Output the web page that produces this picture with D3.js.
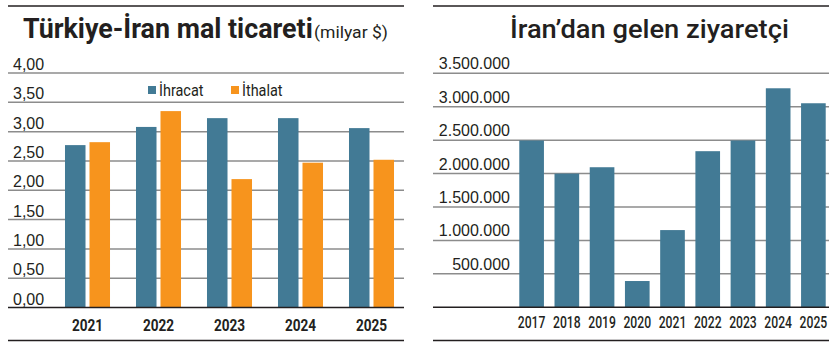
<html>
<head>
  <meta charset="utf-8">
  <script src="https://cdn.jsdelivr.net/npm/d3@7"></script>
  <style>
    body { margin: 0; background: #fff; }
    text { fill: #231f20; font-family: Roboto, "Liberation Sans", sans-serif; }
    .tick-label { font-family: "Liberation Sans", Arial, sans-serif; font-size: 16px; }
    .year { font-size: 17px; font-weight: bold; }
    .legend { font-size: 17px; }
    .grid { stroke: #8c8c8c; stroke-width: 1.5; }
    .rule { stroke: #231f20; stroke-width: 1.5; }
  </style>
</head>
<body>
<script>
// Data
const tradeYears = ["2021", "2022", "2023", "2024", "2025"];
const tradeSeries = ["İhracat", "İthalat"];
const exportsBn = [2.77, 3.08, 3.23, 3.23, 3.06];
const importsBn = [2.82, 3.35, 2.19, 2.47, 2.52];
const tradeTicks = [0, 0.5, 1, 1.5, 2, 2.5, 3, 3.5, 4];

const visitorYears = ["2017", "2018", "2019", "2020", "2021", "2022", "2023", "2024", "2025"];
const visitors = [2495000, 2000000, 2095000, 393000, 1155000, 2335000, 2495000, 3276000, 3052000];
const visitorTicks = [500000, 1000000, 1500000, 2000000, 2500000, 3000000, 3500000];

const teal = "#427a95";
const orange = "#f7941d";

const w = 840, h = 350;
const tr = d3.formatLocale({ decimal: ",", thousands: ".", grouping: [3], currency: ["", ""] });
const fmtDec = tr.format(".2f");
const fmtInt = tr.format(",d");

const svg = d3.select("body").append("svg")
  .attr("width", w)
  .attr("height", h);

// narrow text: the original uses a condensed face, squeeze horizontally
function narrow(sel, x, y, sx) {
  return sel.attr("transform", d => {
    const xx = typeof x === "function" ? x(d) : x;
    const yy = typeof y === "function" ? y(d) : y;
    return "translate(" + xx + "," + yy + ") scale(" + sx + ",1)";
  });
}
// fit a text to a given width
function fitTo(t, x, y, width) {
  const len = t.node().getComputedTextLength();
  t.attr("transform", "translate(" + x + "," + y + ") scale(" + (width / len) + ",1)");
}

// ---------- Left chart: trade ----------
const L = { x0: 8, x1: 404 };
const yL = d3.scaleLinear().domain([0, 4]).range([307.5, 73]);
const xL = d3.scaleBand().domain(tradeYears).range([52, 407])
  .paddingInner(0.366).paddingOuter(0.183);
const xSub = d3.scaleBand().domain(tradeSeries).range([0, xL.bandwidth()])
  .paddingInner(0.163);

svg.append("line").attr("class", "rule")
  .attr("x1", L.x0).attr("x2", L.x1).attr("y1", 6).attr("y2", 6);

const left = svg.append("g");
left.selectAll(".grid").data(tradeTicks.filter(d => d > 0)).join("line")
  .attr("class", "grid")
  .attr("x1", L.x0).attr("x2", L.x1)
  .attr("y1", d => yL(d)).attr("y2", d => yL(d));

left.selectAll(".tick-label").data(tradeTicks).join("text")
  .attr("class", "tick-label")
  .attr("x", 13).attr("y", d => yL(d) - 3)
  .text(d => fmtDec(d));

const tradeRows = tradeYears.map((y, i) => ({ year: y, vals: [exportsBn[i], importsBn[i]] }));
const groups = left.selectAll(".grp").data(tradeRows).join("g")
  .attr("transform", d => "translate(" + xL(d.year) + ",0)");
groups.selectAll("rect").data(d => d.vals.map((v, j) => ({ key: tradeSeries[j], v: v }))).join("rect")
  .attr("x", d => xSub(d.key))
  .attr("width", xSub.bandwidth())
  .attr("y", d => yL(d.v))
  .attr("height", d => yL(0) - yL(d.v))
  .attr("fill", d => d.key === tradeSeries[0] ? teal : orange);

left.append("line").attr("class", "rule")
  .attr("x1", L.x0).attr("x2", L.x1).attr("y1", yL(0)).attr("y2", yL(0));

narrow(left.selectAll(".year").data(tradeYears).join("text")
  .attr("class", "year")
  .attr("text-anchor", "middle")
  .text(d => d), d => xL(d) + xL.bandwidth() / 2, 331, 0.8);

svg.append("line").attr("class", "rule")
  .attr("x1", L.x0).attr("x2", L.x1).attr("y1", 340.5).attr("y2", 340.5);

// legend
const legX = [148, 231];
tradeSeries.forEach((s, i) => {
  svg.append("rect").attr("x", legX[i]).attr("y", 86).attr("width", 8).attr("height", 8)
    .attr("fill", i === 0 ? teal : orange);
  narrow(svg.append("text").attr("class", "legend").text(s), legX[i] + 11, 96, 0.85);
});

// title
const t1 = svg.append("text")
  .style("font-weight", "bold").style("font-size", "27px")
  .text("Türkiye-İran mal ticareti");
fitTo(t1, 23, 38, 290);
const t1b = svg.append("text")
  .style("font-size", "17px")
  .text("(milyar $)");
fitTo(t1b, 314, 38, 74);

// ---------- Right chart: visitors ----------
const R = { x0: 433, x1: 829 };
const yR = d3.scaleLinear().domain([0, 3500000]).range([307.3, 73.3]);
const xR = d3.scaleBand().domain(visitorYears).range([514, 831])
  .paddingInner(0.3).paddingOuter(0.15);

svg.append("line").attr("class", "rule")
  .attr("x1", R.x0).attr("x2", R.x1).attr("y1", 6).attr("y2", 6);

const right = svg.append("g");
right.selectAll(".grid").data(visitorTicks).join("line")
  .attr("class", "grid")
  .attr("x1", R.x0).attr("x2", R.x1)
  .attr("y1", d => yR(d)).attr("y2", d => yR(d));

right.selectAll(".tick-label").data(visitorTicks).join("text")
  .attr("class", "tick-label")
  .attr("x", 510).attr("y", d => yR(d) - 4)
  .attr("text-anchor", "end")
  .text(d => fmtInt(d));

right.selectAll("rect").data(visitorYears.map((y, i) => ({ year: y, v: visitors[i] }))).join("rect")
  .attr("x", d => xR(d.year))
  .attr("width", xR.bandwidth())
  .attr("y", d => yR(d.v))
  .attr("height", d => yR(0) - yR(d.v))
  .attr("fill", teal);

right.append("line").attr("class", "rule")
  .attr("x1", R.x0).attr("x2", R.x1).attr("y1", yR(0)).attr("y2", yR(0));

narrow(right.selectAll(".year").data(visitorYears).join("text")
  .attr("class", "year")
  .style("font-size", "16px")
  .style("font-weight", "500")
  .attr("text-anchor", "middle")
  .text(d => d), d => xR(d) + xR.bandwidth() / 2, 328, 0.76);

svg.append("line").attr("class", "rule")
  .attr("x1", R.x0).attr("x2", R.x1).attr("y1", 340.5).attr("y2", 340.5);

const t2 = svg.append("text")
  .style("font-size", "26px").style("font-weight", "500")
  .text("İran’dan gelen ziyaretçi");
fitTo(t2, 510, 38, 279);
</script>
</body>
</html>
